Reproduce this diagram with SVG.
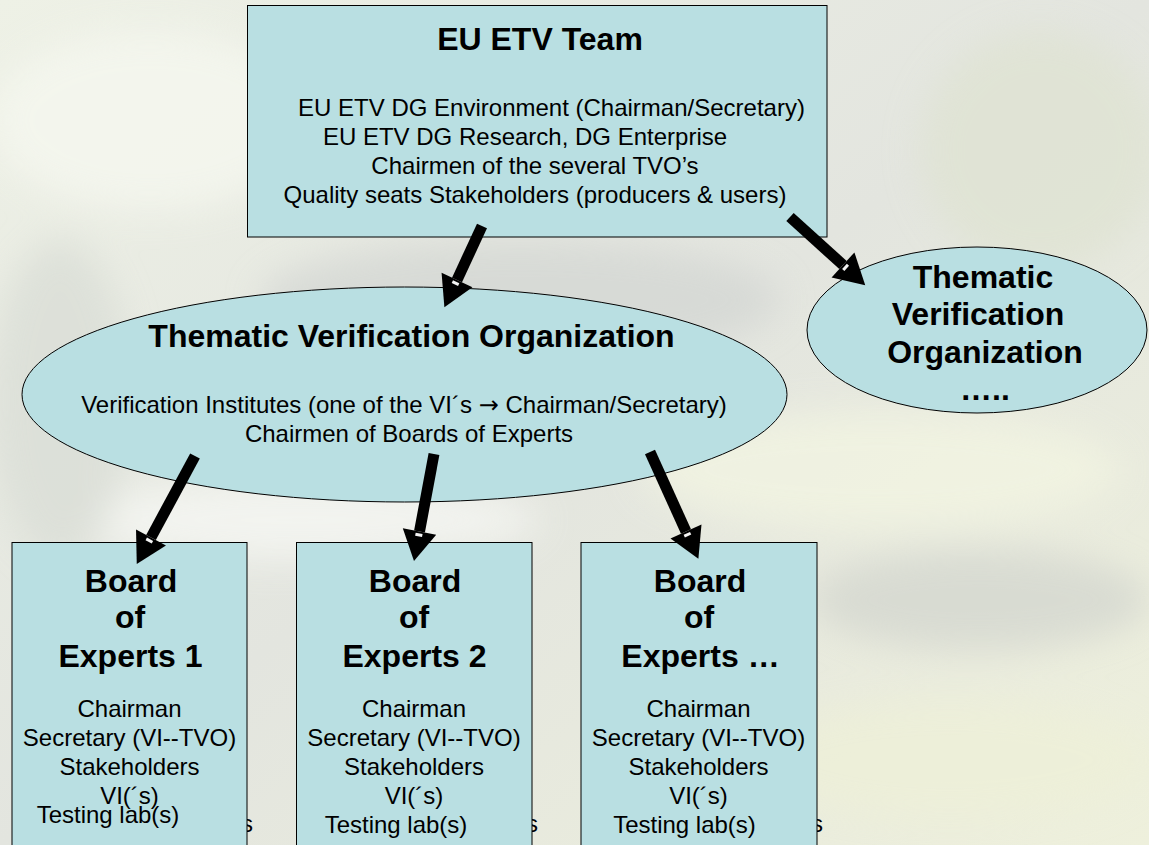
<svg xmlns="http://www.w3.org/2000/svg" width="1149" height="845" viewBox="0 0 1149 845">
<style>
.box{fill:#b9dfe2;stroke:#000;stroke-width:1}
.t{font-family:"Liberation Sans",Arial,sans-serif;font-size:32px;font-weight:bold;fill:#000;text-anchor:middle}
.b{font-family:"Liberation Sans",Arial,sans-serif;font-size:24px;fill:#000;text-anchor:middle}
.sym{font-family:"DejaVu Sans",sans-serif}
.arrow{stroke:#000;stroke-width:11;fill:none;marker-end:url(#head)}
</style>
<defs>
<marker id="head" markerUnits="userSpaceOnUse" viewBox="0 0 30 34" markerWidth="30" markerHeight="34" refX="0" refY="17" orient="auto" overflow="visible">
<path d="M0,0 L30,17 L0,34 Z" fill="#000"/>
<rect x="2" y="13.5" width="3" height="7" fill="#f4f4f4"/>
</marker>
<filter id="blur" x="-20%" y="-20%" width="140%" height="140%"><feGaussianBlur stdDeviation="18"/></filter>
<linearGradient id="bg" x1="0" y1="0" x2="1" y2="1">
<stop offset="0" stop-color="#eef1e6"/>
<stop offset="0.5" stop-color="#e3e5df"/>
<stop offset="1" stop-color="#eef0dc"/>
</linearGradient>
</defs>
<g id="background">
<rect width="1149" height="845" fill="url(#bg)"/>
<g filter="url(#blur)" opacity="0.75">
<ellipse cx="150" cy="120" rx="160" ry="90" fill="#f6f8f0"/>
<ellipse cx="520" cy="300" rx="260" ry="60" fill="#d3d6d3"/>
<ellipse cx="880" cy="470" rx="240" ry="60" fill="#f3f5e2"/>
<ellipse cx="980" cy="600" rx="170" ry="50" fill="#d3d6cf"/>
<ellipse cx="1040" cy="150" rx="120" ry="120" fill="#dfe3d2"/>
<ellipse cx="300" cy="520" rx="240" ry="40" fill="#f7f8f4"/>
<ellipse cx="950" cy="760" rx="200" ry="60" fill="#eef0d8"/>
<ellipse cx="60" cy="400" rx="70" ry="160" fill="#d9ddd6"/>
</g>
</g>
<g id="eu-etv-team">
<rect class="box" x="247.5" y="5.5" width="579.5" height="231.5"/>
<text class="t" x="540" y="50">EU ETV Team</text>
<text class="b" x="551.5" y="116">EU ETV DG Environment (Chairman/Secretary)</text>
<text class="b" x="525" y="145">EU ETV DG Research, DG Enterprise</text>
<text class="b" x="535" y="174">Chairmen of the several TVO’s</text>
<text class="b" x="535" y="203">Quality seats Stakeholders (producers &amp; users)</text>
</g>
<g id="tvo-main">
<ellipse class="box" cx="404.5" cy="394.5" rx="382.5" ry="107.5"/>
<text class="t" x="411.5" y="347">Thematic Verification Organization</text>
<text class="b" x="404" y="413">Verification Institutes (one of the VI´s <tspan class="sym">→</tspan> Chairman/Secretary)</text>
<text class="b" x="409" y="442">Chairmen of Boards of Experts</text>
</g>
<g id="tvo-other">
<ellipse class="box" cx="977" cy="330" rx="170" ry="83"/>
<text class="t" x="983" y="288">Thematic</text>
<text class="t" x="978" y="325">Verification</text>
<text class="t" x="985" y="363">Organization</text>
<text class="t" x="985" y="400">…..</text>
</g>
<g id="board-1">
<text class="b" x="241" y="832" style="text-anchor:start">s</text>
<rect class="box" x="12" y="542.5" width="235" height="310"/>
<text class="t" x="131" y="592">Board</text>
<text class="t" x="130" y="628">of</text>
<text class="t" x="130.5" y="667">Experts 1</text>
<text class="b" x="129.5" y="717">Chairman</text>
<text class="b" x="129.5" y="746">Secretary (VI--TVO)</text>
<text class="b" x="129.5" y="775">Stakeholders</text>
<text class="b" x="129.5" y="804">VI(´s)</text>
<text class="b" x="108" y="823">Testing lab(s)</text>
</g>
<g id="board-2">
<text class="b" x="526" y="832" style="text-anchor:start">s</text>
<rect class="box" x="296.5" y="542.5" width="235.5" height="310"/>
<text class="t" x="415" y="592">Board</text>
<text class="t" x="414" y="628">of</text>
<text class="t" x="414.5" y="667">Experts 2</text>
<text class="b" x="414" y="717">Chairman</text>
<text class="b" x="414" y="746">Secretary (VI--TVO)</text>
<text class="b" x="414" y="775">Stakeholders</text>
<text class="b" x="414" y="804">VI(´s)</text>
<text class="b" x="396" y="833">Testing lab(s)</text>
</g>
<g id="board-3">
<text class="b" x="811" y="832" style="text-anchor:start">s</text>
<rect class="box" x="581" y="542.5" width="236" height="310"/>
<text class="t" x="700" y="592">Board</text>
<text class="t" x="699" y="628">of</text>
<text class="t" x="700.5" y="667">Experts …</text>
<text class="b" x="698.5" y="717">Chairman</text>
<text class="b" x="698.5" y="746">Secretary (VI--TVO)</text>
<text class="b" x="698.5" y="775">Stakeholders</text>
<text class="b" x="698.5" y="804">VI(´s)</text>
<text class="b" x="684.5" y="833">Testing lab(s)</text>
</g>
<g id="connectors">
<line class="arrow" x1="482" y1="226" x2="457" y2="280"/>
<line class="arrow" x1="790" y1="217" x2="843" y2="265"/>
<line class="arrow" x1="195" y1="456" x2="151" y2="537.5"/>
<line class="arrow" x1="434" y1="454" x2="419.5" y2="531.5"/>
<line class="arrow" x1="650" y1="452" x2="686" y2="531.5"/>
</g>
</svg>
